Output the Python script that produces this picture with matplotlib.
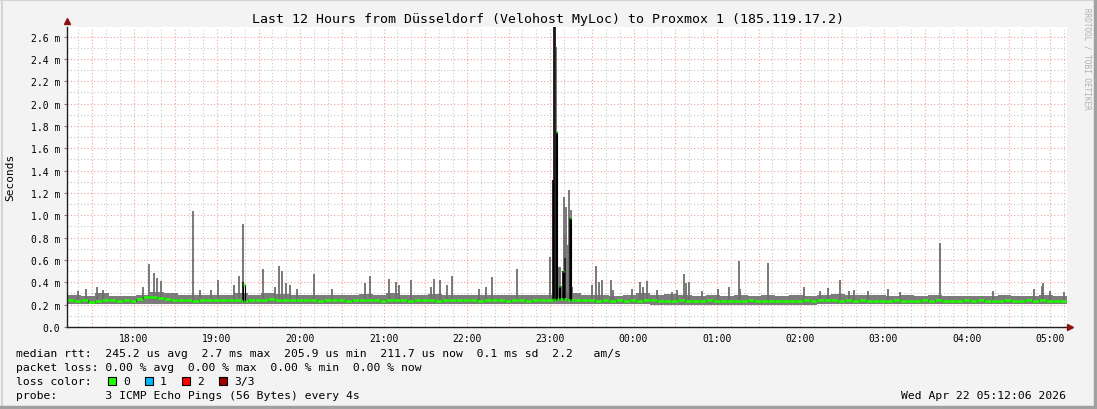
import numpy as np
import matplotlib.pyplot as plt

W, H = 1097, 410

# --- datos (ms) ---
# mediana en intervalos de 5 min desde 17:12:06
median_ms = [
    0.240, 0.235, 0.245, 0.225, 0.235, 0.240, 0.245, 0.235, 0.240, 0.230,
    0.250, 0.265, 0.265, 0.260, 0.255,
    0.245, 0.240, 0.245, 0.235, 0.240, 0.245, 0.240, 0.240, 0.245,
    0.240, 0.235, 0.245, 0.240, 0.245, 0.250, 0.245, 0.240, 0.245, 0.240,
    0.240, 0.245, 0.235, 0.240, 0.245, 0.240, 0.235, 0.240, 0.245, 0.240, 0.240, 0.235,
    0.240, 0.245, 0.240, 0.235, 0.240, 0.245, 0.240, 0.235, 0.240, 0.240, 0.245, 0.240,
    0.240, 0.235, 0.240, 0.245, 0.240, 0.235, 0.240, 0.240, 0.235, 0.240, 0.240, 0.245,
    0.250, 0.250, 0.245, 0.240, 0.245, 0.240, 0.235, 0.240, 0.235, 0.240, 0.235, 0.240,
    0.235, 0.240, 0.245, 0.235, 0.230, 0.235, 0.240, 0.235, 0.230, 0.235, 0.240, 0.235,
    0.230, 0.235, 0.230, 0.235, 0.240, 0.235, 0.230, 0.235, 0.235, 0.230, 0.235, 0.230,
    0.240, 0.235, 0.240, 0.245, 0.240, 0.235, 0.240, 0.235, 0.240, 0.235, 0.230, 0.235,
    0.235, 0.240, 0.235, 0.230, 0.235, 0.240, 0.235, 0.240, 0.235, 0.230, 0.235, 0.240,
    0.235, 0.240, 0.235, 0.230, 0.235, 0.240, 0.235, 0.230, 0.240, 0.235, 0.240, 0.235, 0.230, 0.235,
]

# borde superior del humo, intervalos de 10 min
smoke_hi_ms = [
    0.290, 0.280, 0.300, 0.275, 0.280, 0.290,
    0.310, 0.305, 0.290, 0.285, 0.290, 0.285,
    0.300, 0.290, 0.300, 0.295, 0.290, 0.285,
    0.290, 0.285, 0.290, 0.295, 0.290, 0.300,
    0.285, 0.290, 0.295, 0.290, 0.285, 0.290,
    0.290, 0.285, 0.290, 0.285, 0.290, 0.320,
    0.300, 0.285, 0.290, 0.280, 0.285, 0.300,
    0.290, 0.295, 0.285, 0.280, 0.285, 0.280,
    0.285, 0.280, 0.285, 0.280, 0.285, 0.280,
    0.290, 0.295, 0.285, 0.290, 0.285, 0.280,
    0.285, 0.280, 0.285, 0.280, 0.280, 0.275,
    0.280, 0.285, 0.280, 0.280, 0.285, 0.280,
]
# borde inferior del humo, por hora
smoke_lo_ms = [0.205, 0.210, 0.205, 0.205, 0.205, 0.205, 0.205, 0.200, 0.200, 0.205, 0.205, 0.205]

spike_time = [
    "17:20", "17:26", "17:34", "17:38", "18:07", "18:11", "18:15", "18:17", "18:20",
    "18:43", "18:48", "18:56", "19:01", "19:12", "19:16", "19:19", "19:33", "19:42",
    "19:45", "19:47", "19:50", "19:53", "19:58", "20:10", "20:23", "20:47", "20:50",
    "21:04", "21:09", "21:11", "21:20", "21:34", "21:36", "21:41", "21:46", "21:49",
    "22:09", "22:14", "22:18", "22:36", "23:00",
    "23:02", "23:03", "23:03:30", "23:04", "23:05", "23:06", "23:07", "23:08", "23:09",
    "23:10", "23:11", "23:11:30", "23:12:30", "23:13:30", "23:14", "23:15", "23:16",
    "23:30", "23:33", "23:35", "23:37", "23:44", "23:45", "23:59", "00:05", "00:07",
    "00:10", "00:17", "00:28", "00:31", "00:36", "00:38", "00:40", "00:49", "01:01",
    "01:09", "01:16", "01:17", "01:37", "02:03", "02:14", "02:20", "02:29", "02:35",
    "02:39", "02:49", "03:03", "03:12", "03:41", "04:19", "04:48", "04:54", "04:55",
    "05:00", "05:10",
]
spike_ms = [
    0.32, 0.34, 0.36, 0.33, 0.36, 0.56, 0.48, 0.44, 0.41,
    1.04, 0.33, 0.33, 0.42, 0.38, 0.46, 0.92, 0.52, 0.36,
    0.55, 0.50, 0.39, 0.38, 0.34, 0.47, 0.34, 0.39, 0.46,
    0.43, 0.40, 0.38, 0.42, 0.36, 0.43, 0.42, 0.38, 0.46,
    0.34, 0.36, 0.45, 0.52, 0.63,
    1.32, 2.75, 2.75, 2.51, 0.76, 0.54, 0.54, 0.37, 0.50,
    1.16, 0.82, 1.07, 0.73, 1.23, 0.98, 1.05, 0.36,
    0.38, 0.55, 0.40, 0.42, 0.42, 0.33, 0.34, 0.40, 0.36,
    0.41, 0.33, 0.31, 0.33, 0.47, 0.39, 0.40, 0.32, 0.34,
    0.36, 0.59, 0.34, 0.57, 0.36, 0.32, 0.35, 0.42, 0.32,
    0.33, 0.32, 0.34, 0.31, 0.75, 0.32, 0.34, 0.37, 0.39,
    0.32, 0.31,
]

dark_time = ["19:19", "23:02", "23:03", "23:03:30", "23:09", "23:11", "23:14"]
dark_ms = [0.40, 1.32, 2.75, 2.75, 0.50, 0.62, 0.98]

median_extra_time = ["19:19", "23:02", "23:04", "23:06", "23:09", "23:14"]
median_extra_ms = [0.38, 1.32, 1.75, 0.37, 0.50, 0.98]

loss_labels = ["0", "1", "2", "3/3"]
loss_colors = ["#20ff00", "#00b8ff", "#ff0000", "#a00000"]

SMOKE = "#6e6e6e"
BAND = "#7c7c7c"
GREEN = loss_colors[0]
FONT = "DejaVu Sans Mono"


def a_horas(s):
    p = [int(x) for x in s.split(":")]
    h = p[0] + p[1] / 60 + (p[2] if len(p) > 2 else 0) / 3600
    return h + 24 if h < 12 else h


T0 = a_horas("17:12:06")
T1 = T0 + 12
YMAX = 2.69

plt.rcParams['font.family'] = FONT
fig = plt.figure(figsize=(W / 100, H / 100), dpi=100, facecolor="#f3f3f3")
ax = fig.add_axes([67 / W, (H - 328) / H, 1000 / W, 300.5 / H])
ax.set_facecolor("white")
ax.set_xlim(T0, T1)
ax.set_ylim(0, YMAX)

# --- rejilla ---
dots = (0, (1, 2))
for tg in np.arange(np.ceil(T0 * 6) / 6, T1, 1 / 6):
    rojo = round(tg * 6) % 3 == 0
    ax.axvline(tg, color="#f2a0a0" if rojo else "#c8c8c8", lw=0.8, ls=dots, zorder=0.5)
for j in range(1, 27):
    ax.axhline(j * 0.1, color="#f2a0a0" if j % 2 == 0 else "#c8c8c8", lw=0.8, ls=dots, zorder=0.5)

# --- humo ---
t10 = T0 + np.arange(73) * 10 / 60
hi = np.append(smoke_hi_ms, smoke_hi_ms[-1])
lo = np.repeat(smoke_lo_ms, 6)
lo = np.append(lo, lo[-1])
ax.fill_between(t10, lo, hi, step="post", color=BAND, lw=0, zorder=1)
ts = [a_horas(s) for s in spike_time]
ax.vlines(ts, 0.24, spike_ms, color=SMOKE, lw=1.3, zorder=1.2)
td = [a_horas(s) for s in dark_time]
ax.vlines(td, 0.24, dark_ms, color="#151515", lw=1.1, zorder=1.3)

# --- mediana ---
tm = list(T0 + np.arange(144) * 5 / 60)
vm = list(median_ms)
for s, val in zip(median_extra_time, median_extra_ms):
    te = a_horas(s)
    i = int((te - T0) / (5 / 60))
    tm += [te, te + 1.0 / 60]
    vm += [val, median_ms[i]]
orden = np.argsort(tm)
tm = np.array(tm)[orden]
vm = np.array(vm)[orden]
tm_fin = np.append(tm[1:], T1)
ax.step(np.append(tm, T1), np.append(vm, vm[-1]), where="post", color="black", lw=0.8, zorder=2)
ax.hlines(vm, tm, tm_fin, color=GREEN, lw=1.8, zorder=2.5)

# --- ejes ---
for lado in ["top", "right"]:
    ax.spines[lado].set_visible(False)
for lado in ["left", "bottom"]:
    ax.spines[lado].set_color("#202020")
    ax.spines[lado].set_linewidth(1.0)
    ax.spines[lado].set_zorder(3)
ax.plot([T0], [YMAX + 0.05], marker="^", color="#8b1010", ms=4, clip_on=False, zorder=4)
ax.plot([T1 + 0.035], [0], marker=">", color="#8b1010", ms=4, clip_on=False, zorder=4)

horas = np.arange(18, 30)
ax.set_xticks(horas)
ax.set_xticklabels([f"{h % 24:02d}:00" for h in horas], fontsize=7)
ax.tick_params(axis="x", length=0, pad=4)
yt = np.round(np.arange(0, 2.61, 0.2), 1)
ax.set_yticks(yt)
ax.set_yticklabels(["0.0"] + [f"{v:.1f} m" for v in yt[1:]], fontsize=7)
ax.tick_params(axis="y", length=2, pad=3, color="#808080")

# --- textos ---
def fx(x):
    return x / W


def fy(y):
    return 1 - y / H


fig.text(fx(548), fy(19), "Last 12 Hours from Düsseldorf (Velohost MyLoc) to Proxmox 1 (185.119.17.2)",
         ha="center", va="center", fontsize=9.5)
fig.text(fx(10), fy(177), "Seconds", rotation=90, ha="center", va="center", fontsize=8)
fig.text(fx(1087), fy(59), "RRDTOOL / TOBI OETIKER", rotation=270, ha="center", va="center",
         fontsize=5.5, color="#b0b0b0")

fs = 8.2
fig.text(fx(16), fy(354), "median rtt:  245.2 us avg  2.7 ms max  205.9 us min  211.7 us now  0.1 ms sd  2.2   am/s",
         va="center", fontsize=fs)
fig.text(fx(16), fy(368), "packet loss: 0.00 % avg  0.00 % max  0.00 % min  0.00 % now",
         va="center", fontsize=fs)
fig.text(fx(16), fy(382), "loss color:", va="center", fontsize=fs)
caja_x = [108, 145, 182, 219]
for cx, lab, col in zip(caja_x, loss_labels, loss_colors):
    fig.patches.append(plt.Rectangle((fx(cx), fy(386)), 8 / W, 8 / H, transform=fig.transFigure,
                                     facecolor=col, edgecolor="black", lw=0.8))
    fig.text(fx(cx + 15), fy(382), lab, va="center", fontsize=fs)
fig.text(fx(16), fy(396), "probe:       3 ICMP Echo Pings (56 Bytes) every 4s", va="center", fontsize=fs)
fig.text(fx(1066), fy(396), "Wed Apr 22 05:12:06 2026", ha="right", va="center", fontsize=fs)

# marco: claro arriba/izquierda, oscuro abajo/derecha
claro, oscuro = "#d4d4d4", "#a0a0a0"
fig.add_artist(plt.Line2D([0, 1], [0.997, 0.997], transform=fig.transFigure, color=claro, lw=1.5))
fig.add_artist(plt.Line2D([0.0015, 0.0015], [0, 1], transform=fig.transFigure, color=claro, lw=1.5))
fig.add_artist(plt.Line2D([0, 1], [0.004, 0.004], transform=fig.transFigure, color=oscuro, lw=2.5))
fig.add_artist(plt.Line2D([0.9985, 0.9985], [0, 1], transform=fig.transFigure, color=oscuro, lw=2.5))

fig.savefig("out.png", dpi=100, facecolor=fig.get_facecolor())
